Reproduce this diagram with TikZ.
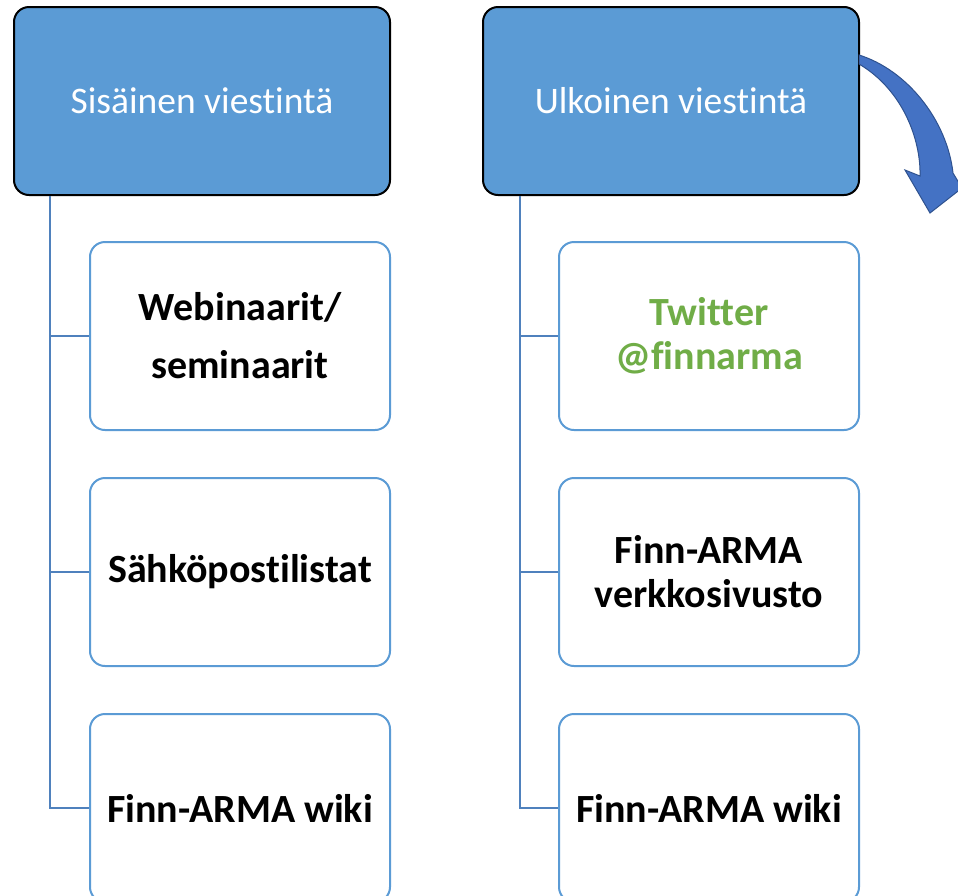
\documentclass[tikz,border=0pt]{standalone}
\usepackage{fontspec}
\setmainfont[Ligatures=NoCommon]{Carlito}
\usetikzlibrary{positioning}
\definecolor{headblue}{HTML}{5B9BD5}
\definecolor{lineblue}{HTML}{4F81BD}
\definecolor{arrowblue}{HTML}{4472C4}
\definecolor{arrowedge}{HTML}{2F528F}
\definecolor{twgreen}{HTML}{70AD47}

\begin{document}
\begin{tikzpicture}[x=1pt, y=-1pt, node distance=46pt,
	head/.style={rectangle, rounded corners=15pt, draw=black, line width=2pt, fill=headblue, text=white, minimum width=376pt, minimum height=188pt, font=\fontsize{37.5}{45}\selectfont},
	item/.style={rectangle, rounded corners=15pt, draw=headblue, line width=2pt, fill=white, minimum width=300pt, minimum height=188pt, align=center, font=\fontsize{40}{44}\selectfont\bfseries},
	tree/.style={draw=lineblue, line width=2pt}]
	\useasboundingbox (0,0) rectangle (958,895);
	
	\node[head] (sis) at (202,101) {Sisäinen viestintä};
	\node[head] (ulk) at (671,101) {Ulkoinen viestintä};
	
	\node[item, below=45pt of sis.south east, anchor=north east] (web) {Webinaarit/\\[14pt]seminaarit};
	\node[item, below = of web] (posti) {Sähköpostilistat};
	\node[item, below = of posti] (wiki1) {Finn-ARMA wiki};
	
	\node[item, text=twgreen, below=45pt of ulk.south east, anchor=north east] (tw) {Twitter\\@finnarma};
	\node[item, below = of tw] (sivu) {Finn-ARMA\\verkkosivusto};
	\node[item, below = of sivu] (wiki2) {Finn-ARMA wiki};
	
	\draw[tree] ([xshift=37pt]sis.south west) |- (web.west);
	\draw[tree] ([xshift=37pt]sis.south west) |- (posti.west);
	\draw[tree] ([xshift=37pt]sis.south west) |- (wiki1.west);
	\draw[tree] ([xshift=38pt]ulk.south west) |- (tw.west);
	\draw[tree] ([xshift=38pt]ulk.south west) |- (sivu.west);
	\draw[tree] ([xshift=38pt]ulk.south west) |- (wiki2.west);
	
	% curved block arrow
	\filldraw[fill=arrowblue, draw=arrowedge, line width=1pt, line join=miter]
		(859,55) .. controls (907,70) and (947,120) .. (953,173)
		-- (962,188) -- (930,213) -- (905,170) -- (920,176)
		.. controls (921,140) and (903,90) .. (859,64) -- cycle;
\end{tikzpicture}
\end{document}
